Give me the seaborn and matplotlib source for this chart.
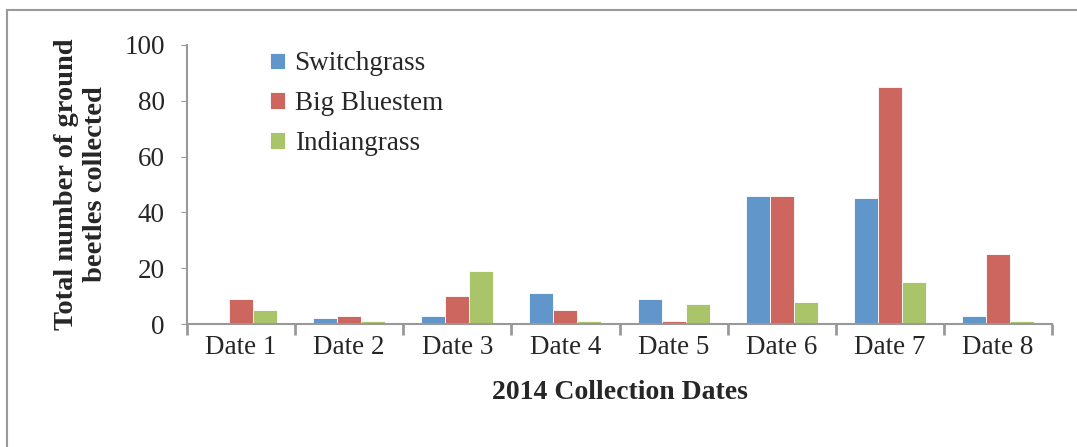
import pandas as pd
import seaborn as sns
import matplotlib.pyplot as plt
from matplotlib.patches import Rectangle

dates = ['Date 1', 'Date 2', 'Date 3', 'Date 4', 'Date 5', 'Date 6', 'Date 7', 'Date 8']
switchgrass = [0, 2, 3, 11, 9, 46, 45, 3]
big_bluestem = [9, 3, 10, 5, 1, 46, 85, 25]
indiangrass = [5, 1, 19, 1, 7, 8, 15, 1]
species = ['Switchgrass', 'Big Bluestem', 'Indiangrass']
colors = ['#6196CB', '#CD665E', '#AAC46A']

df = pd.DataFrame({'Date': dates * 3,
                   'Count': switchgrass + big_bluestem + indiangrass,
                   'Species': [s for s in species for _ in dates]})

sns.set_style("white")
plt.rcParams['font.family'] = ['Liberation Serif', 'DejaVu Serif']

fig = plt.figure(figsize=(10.77, 4.47), dpi=100)
ax = fig.add_axes([187/1077, 1 - 324/447, 865/1077, 279/447])

sns.barplot(data=df, x='Date', y='Count', hue='Species', palette=colors,
            width=0.667, saturation=1, ax=ax, edgecolor='white', linewidth=0.6)

ax.set_ylim(0, 100)
ax.set_xlim(-0.5, 7.5)
ax.set_yticks(range(0, 101, 20))
ax.tick_params(axis='y', labelsize=19.5, length=4, color='#999999', direction='out', left=True, pad=12)
ax.tick_params(axis='x', labelsize=19.5, length=0, pad=8)
ax.set_xticks([i - 0.5 for i in range(9)], minor=True)
ax.tick_params(axis='x', which='minor', length=8, color='#999999', width=2, bottom=True, direction='out')

for side in ['top', 'right']:
    ax.spines[side].set_visible(False)
for side in ['left', 'bottom']:
    ax.spines[side].set_color('#999999')
    ax.spines[side].set_linewidth(1.5)

ax.set_xlabel('2014 Collection Dates', fontsize=20, fontweight='bold', labelpad=14)
ax.set_ylabel('Total number of ground\nbeetles collected', fontsize=20.5, fontweight='bold', labelpad=12,
              linespacing=1.2)

leg = ax.legend(loc='upper left', bbox_to_anchor=(0.068, 1.065), frameon=False, fontsize=19.5,
                handlelength=0.55, handleheight=0.55, handletextpad=0.35, labelspacing=0.55)

fig.patches.append(Rectangle((7/1077, -0.1), 1.2, 1 - 10/447 + 0.1, transform=fig.transFigure,
                             fill=False, edgecolor='#999999', linewidth=1.5))

fig.savefig('out.png', dpi=100)
